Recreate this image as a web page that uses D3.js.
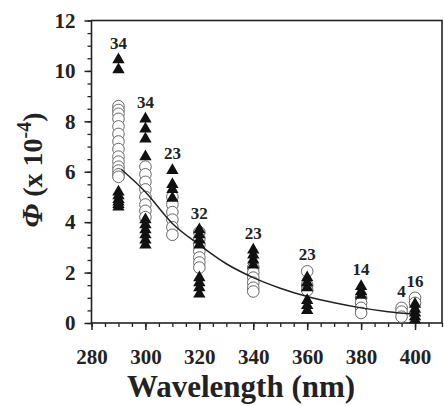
<!DOCTYPE html>
<html>
<head>
<meta charset="utf-8">
<script src="https://cdn.jsdelivr.net/npm/d3@7"></script>
<style>
  html, body { margin: 0; padding: 0; background: #fff; }
  svg { display: block; }
  text { font-family: "Liberation Serif", "Times New Roman", serif; font-weight: bold; fill: #222; }
</style>
</head>
<body>
<svg id="chart" width="444" height="406"></svg>
<script>
// Quantum yield measurements per irradiation wavelength
const wavelengths = [290, 300, 310, 320, 340, 360, 380, 395, 400];
const sampleCounts = [34, 34, 23, 32, 23, 23, 14, 4, 16];

// Open-circle series (Φ × 10^-4)
const circleValues = [
  [8.6, 8.45, 8.3, 8.1, 7.8, 7.5, 7.2, 6.9, 6.6, 6.4, 6.2, 6.05, 5.9, 5.8],
  [6.2, 5.9, 5.6, 5.3, 5.0, 4.7, 4.45, 4.2],
  [5.0, 4.7, 4.4, 4.1, 3.8, 3.5],
  [3.6, 3.35, 3.1, 2.85, 2.6, 2.4, 2.2],
  [2.2, 2.0, 1.8, 1.6, 1.4, 1.25],
  [2.05, 1.5, 1.3],
  [1.0, 0.8, 0.6, 0.4],
  [0.6, 0.45, 0.25],
  [1.0, 0.8]
];

// Filled-triangle series (Φ × 10^-4)
const triangleValues = [
  [10.45, 10.05, 5.2, 5.05, 4.9, 4.8, 4.7, 4.6],
  [8.1, 7.7, 7.3, 6.6, 4.1, 3.9, 3.7, 3.5, 3.3, 3.1],
  [6.05, 5.5, 5.3, 4.95],
  [3.7, 3.5, 3.3, 3.1, 1.8, 1.6, 1.4, 1.15],
  [2.9, 2.7, 2.5, 2.3],
  [1.8, 1.6, 1.4, 0.9, 0.7, 0.5],
  [1.45, 1.25, 1.1],
  [],
  [0.75, 0.55, 0.4, 0.25, 0.12]
];

// Fitted decay curve, sampled along wavelength
const fitWavelengths = [291, 300, 310, 320, 330, 340, 350, 360, 370, 380, 390, 400];
const fitValues = [6.1, 5.2, 3.95, 3.1, 2.35, 1.8, 1.38, 1.05, 0.8, 0.6, 0.45, 0.35];

const xTicks = [280, 300, 320, 340, 360, 380, 400];
const yTicks = [0, 2, 4, 6, 8, 10, 12];

const svg = d3.select("#chart");
const margin = { left: 91.5, right: 2, top: 20.5, bottom: 83 };
const W = 444, H = 406;

const x = d3.scaleLinear().domain([280, 410]).range([margin.left, W - margin.right]);
const y = d3.scaleLinear().domain([0, 12]).range([H - margin.bottom, margin.top]);

const g = svg.append("g");

// Minor ticks
const xMinor = d3.range(280, 411, 5);
const yMinor = d3.range(0, 12.01, 0.5);

g.append("g")
  .attr("transform", `translate(0,${y(0)})`)
  .call(d3.axisBottom(x).tickValues(xMinor).tickSize(4).tickFormat(""))
  .call(a => a.select(".domain").remove())
  .call(a => a.selectAll("line").attr("stroke", "#222").attr("stroke-width", 1.3));

g.append("g")
  .attr("transform", `translate(${x(280)},0)`)
  .call(d3.axisLeft(y).tickValues(yMinor).tickSize(4).tickFormat(""))
  .call(a => a.select(".domain").remove())
  .call(a => a.selectAll("line").attr("stroke", "#222").attr("stroke-width", 1.3));

// Major ticks with labels
const styleTicks = sel => sel.selectAll("text")
  .style("font-family", "'Liberation Serif', serif")
  .style("font-weight", "bold")
  .style("font-size", "21px")
  .style("fill", "#222");

const xAxis = g.append("g")
  .attr("transform", `translate(0,${y(0)})`)
  .call(d3.axisBottom(x).tickValues(xTicks).tickSize(7).tickPadding(19));
xAxis.select(".domain").remove();
xAxis.selectAll("line").attr("stroke", "#222").attr("stroke-width", 1.5);
styleTicks(xAxis);

const yAxis = g.append("g")
  .attr("transform", `translate(${x(280)},0)`)
  .call(d3.axisLeft(y).tickValues(yTicks).tickSize(7).tickPadding(9));
yAxis.select(".domain").remove();
yAxis.selectAll("line").attr("stroke", "#222").attr("stroke-width", 1.5);
styleTicks(yAxis);

// Plot frame
g.append("rect")
  .attr("x", x(280)).attr("y", y(12))
  .attr("width", x(410) - x(280)).attr("height", y(0) - y(12))
  .attr("fill", "none").attr("stroke", "#222").attr("stroke-width", 1.6);

// Open circles
const circlePts = [];
wavelengths.forEach((w, i) => circleValues[i].forEach(v => circlePts.push([w, v])));
g.append("g").selectAll("circle")
  .data(circlePts).join("circle")
  .attr("cx", d => x(d[0])).attr("cy", d => y(d[1]))
  .attr("r", 5.8)
  .attr("fill", "#fff").attr("stroke", "#666").attr("stroke-width", 1);

// Fitted curve
const line = d3.line().x(d => x(d[0])).y(d => y(d[1])).curve(d3.curveMonotoneX);
g.append("path")
  .datum(fitWavelengths.map((w, i) => [w, fitValues[i]]))
  .attr("d", line)
  .attr("fill", "none").attr("stroke", "#222").attr("stroke-width", 1.5);

// Filled triangles
const triPts = [];
wavelengths.forEach((w, i) => triangleValues[i].forEach(v => triPts.push([w, v])));
const tri = d3.symbol().type(d3.symbolTriangle).size(66);
g.append("g").selectAll("path")
  .data(triPts).join("path")
  .attr("d", tri)
  .attr("transform", d => `translate(${x(d[0])},${y(d[1])})`)
  .attr("fill", "#111");

// Sample count labels above each wavelength group
const labelOffsets = sampleCounts.map((c, i) => {
  const top = d3.max(circleValues[i].concat(triangleValues[i]));
  return [wavelengths[i], top, c];
});
g.append("g").selectAll("text")
  .data(labelOffsets).join("text")
  .attr("x", d => x(d[0]))
  .attr("y", d => y(d[1]) - 11)
  .attr("text-anchor", "middle")
  .style("font-size", "17px")
  .text(d => d[2]);

// Axis titles
svg.append("text")
  .attr("x", 241)
  .attr("y", 397)
  .attr("text-anchor", "middle")
  .style("font-size", "31px")
  .text("Wavelength (nm)");

const yt = svg.append("text")
  .attr("transform", `translate(42,170) rotate(-90)`)
  .attr("text-anchor", "middle")
  .style("font-size", "28px");
yt.append("tspan").style("font-style", "italic").style("font-size", "30px").text("Φ");
yt.append("tspan").text(" (x 10");
yt.append("tspan").style("font-size", "20px").attr("dy", -11).text("-4");
yt.append("tspan").attr("dy", 11).text(")");
</script>
</body>
</html>
